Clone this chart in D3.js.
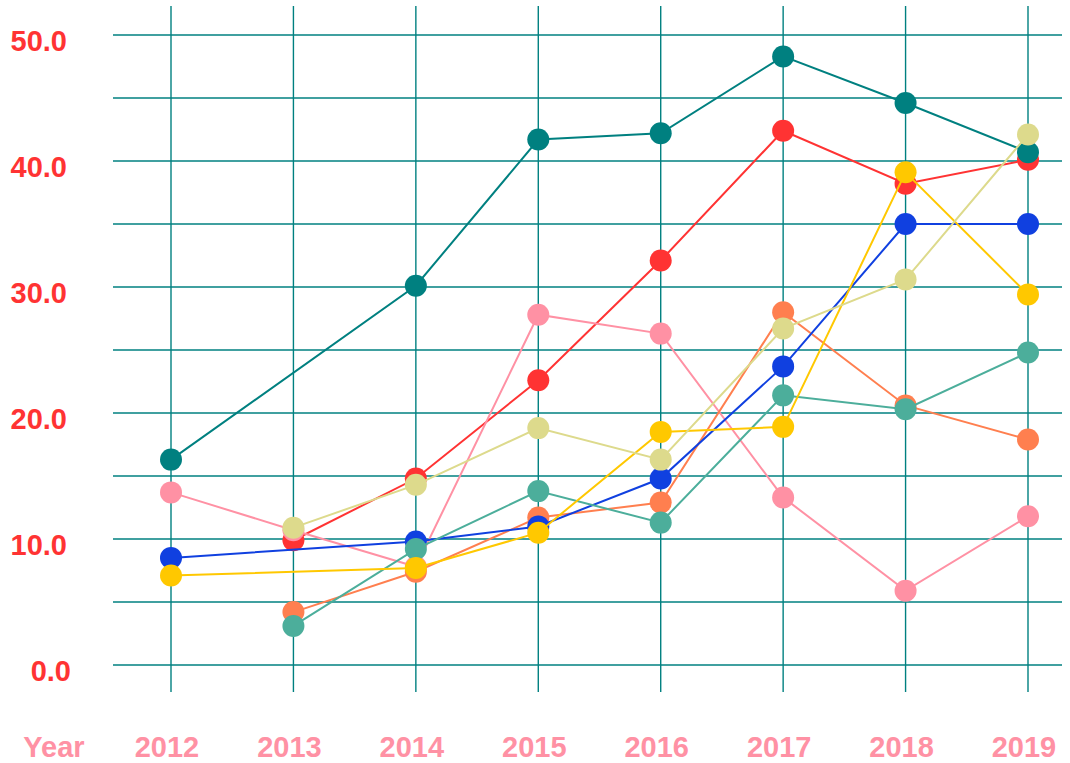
<!DOCTYPE html>
<html>
<head>
<meta charset="utf-8">
<script src="https://cdn.jsdelivr.net/npm/d3@7"></script>
<style>
  body { margin: 0; background: #fff; }
  text { font-family: "Liberation Sans", Arial, sans-serif; font-weight: bold; }
</style>
</head>
<body>
<script>
// data (null = no point that year)
const years = ['2012', '2013', '2014', '2015', '2016', '2017', '2018', '2019']
const yTicks = [0, 10, 20, 30, 40, 50]

const redVals    = [null, 9.9, 14.8, 22.6, 32.1, 42.4, 38.2, 40.1]
const pinkVals   = [13.7, 10.7, 7.8, 27.8, 26.3, 13.3, 5.9, 11.8]
const orangeVals = [null, 4.2, 7.4, 11.7, 12.9, 28.0, 20.6, 17.9]
const blueVals   = [8.5, null, 9.8, 11.0, 14.8, 23.7, 35.0, 35.0]
const greenVals  = [null, 3.1, 9.2, 13.8, 11.3, 21.4, 20.3, 24.8]
const tealVals   = [16.3, null, 30.1, 41.7, 42.2, 48.3, 44.6, 40.7]
const yellowVals = [7.1, null, 7.7, 10.5, 18.5, 18.9, 39.1, 29.4]
const khakiVals  = [null, 10.9, 14.3, 18.8, 16.3, 26.7, 30.6, 42.1]

const series = [
  {values: redVals, color: '#ff3333'},
  {values: pinkVals, color: '#ff91a4'},
  {values: orangeVals, color: '#ff7f4f'},
  {values: blueVals, color: '#1040e0'},
  {values: greenVals, color: '#4cae9b'},
  {values: tealVals, color: '#008080'},
  {values: yellowVals, color: '#ffc800'},
  {values: khakiVals, color: '#ddda8c'}
]

const width = 1070, height = 763

const svg = d3.select('body').append('svg')
  .attr('width', width)
  .attr('height', height)

const x = d3.scalePoint()
  .domain(years)
  .range([171, 1028])

const y = d3.scaleLinear()
  .domain([0, 50])
  .range([665, 35])

// grid
const grid = svg.append('g')
grid.selectAll('.hline')
  .data(d3.range(0, 51, 5))
  .enter().append('line')
  .attr('x1', 113).attr('x2', 1062)
  .attr('y1', d => y(d)).attr('y2', d => y(d))
  .attr('stroke', '#008080')
  .attr('stroke-width', 1.4)

grid.selectAll('.vline')
  .data(years)
  .enter().append('line')
  .attr('x1', d => x(d)).attr('x2', d => x(d))
  .attr('y1', 6).attr('y2', 692)
  .attr('stroke', '#008080')
  .attr('stroke-width', 1.4)

// y labels
svg.selectAll('.ylab')
  .data(yTicks)
  .enter().append('text')
  .attr('x', d => d === 0 ? 71 : 67)
  .attr('y', d => y(d) + 16)
  .attr('text-anchor', 'end')
  .attr('fill', '#ff3333')
  .style('font-size', '29px')
  .text(d => d3.format('.1f')(d))

// x labels
svg.selectAll('.xlab')
  .data(years)
  .enter().append('text')
  .attr('x', d => x(d) - 4)
  .attr('y', 757)
  .attr('text-anchor', 'middle')
  .attr('fill', '#ff91a4')
  .style('font-size', '29px')
  .text(d => d)

svg.append('text')
  .attr('x', 54)
  .attr('y', 757)
  .attr('text-anchor', 'middle')
  .attr('fill', '#ff91a4')
  .style('font-size', '29px')
  .text('Year')

// lines + markers
const line = d3.line()
  .x(d => x(d.year))
  .y(d => y(d.value))

series.forEach(s => {
  const pts = years.map((yr, i) => ({year: yr, value: s.values[i]}))
    .filter(p => p.value !== null)
  const g = svg.append('g')
  g.append('path')
    .datum(pts)
    .attr('d', line)
    .attr('fill', 'none')
    .attr('stroke', s.color)
    .attr('stroke-width', 2)
  g.selectAll('circle')
    .data(pts)
    .enter().append('circle')
    .attr('cx', d => x(d.year))
    .attr('cy', d => y(d.value))
    .attr('r', 11)
    .attr('fill', s.color)
})
</script>
</body>
</html>
